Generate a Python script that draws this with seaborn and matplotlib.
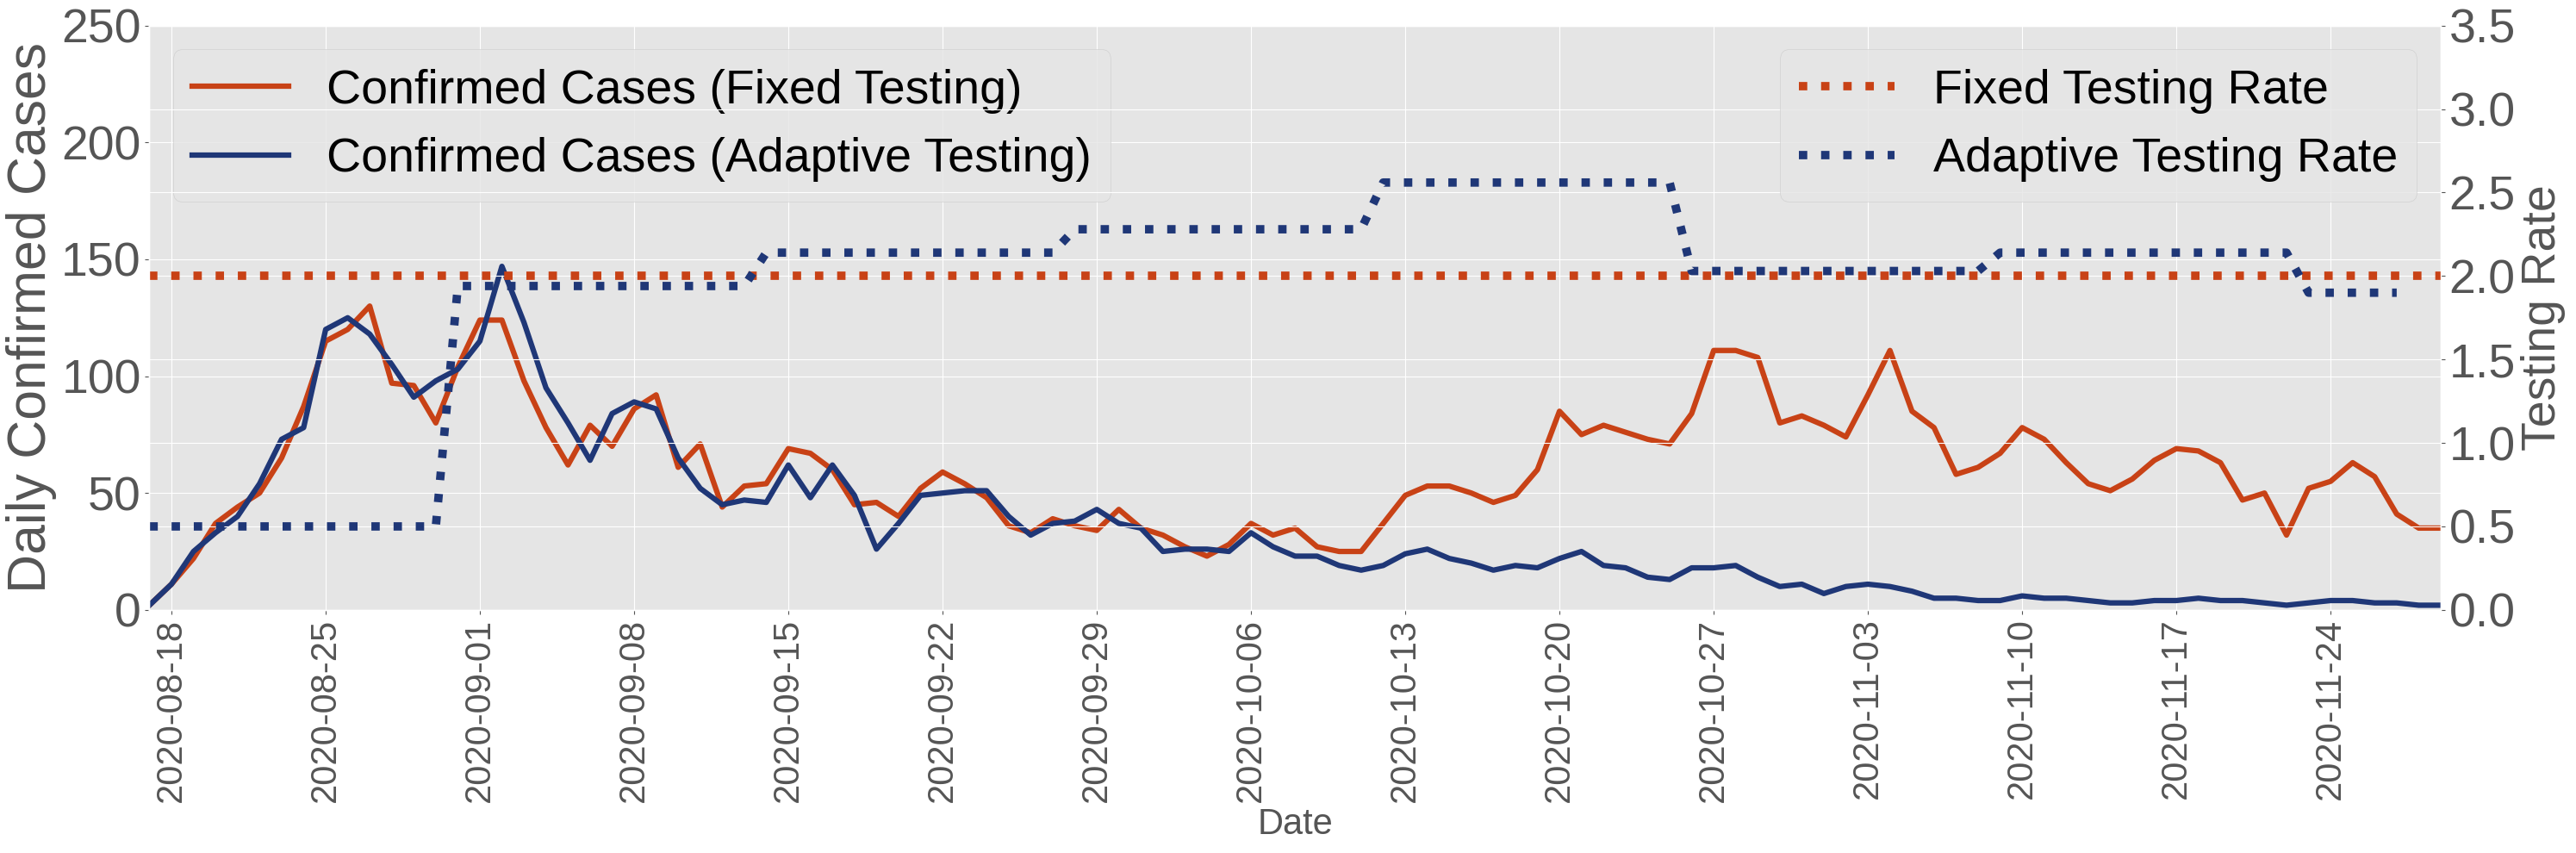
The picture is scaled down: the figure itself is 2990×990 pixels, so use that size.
import pandas as pd
import seaborn as sns
import matplotlib.pyplot as plt
import matplotlib.dates as mdates

# ---------------- data ----------------
dates = pd.date_range('2020-08-17', '2020-11-29', freq='D')
rate_dates = pd.date_range('2020-08-17', '2020-11-27', freq='D')

cases_fixed = [
    2, 11, 22, 37, 44, 50, 65, 87, 115, 120, 130, 97, 96, 80,
    104, 124, 124, 98, 78, 62, 79, 70, 86, 92, 61, 71, 44, 53,
    54, 69, 67, 60, 45, 46, 40, 52, 59, 54, 48, 36, 33, 39,
    36, 34, 43, 35, 32, 27, 23, 28, 37, 32, 35, 27, 25, 25,
    37, 49, 53, 53, 50, 46, 49, 60, 85, 75, 79, 76, 73, 71,
    84, 111, 111, 108, 80, 83, 79, 74, 92, 111, 85, 78, 58, 61,
    67, 78, 73, 63, 54, 51, 56, 64, 69, 68, 63, 47, 50, 32,
    52, 55, 63, 57, 41, 35, 35,
]
cases_adaptive = [
    2, 11, 25, 33, 40, 54, 73, 78, 120, 125, 118, 105, 91, 98,
    103, 115, 147, 123, 95, 80, 64, 84, 89, 86, 65, 52, 45, 47,
    46, 62, 48, 62, 49, 26, 37, 49, 50, 51, 51, 40, 32, 37,
    38, 43, 37, 35, 25, 26, 26, 25, 33, 27, 23, 23, 19, 17,
    19, 24, 26, 22, 20, 17, 19, 18, 22, 25, 19, 18, 14, 13,
    18, 18, 19, 14, 10, 11, 7, 10, 11, 10, 8, 5, 5, 4,
    4, 6, 5, 5, 4, 3, 3, 4, 4, 5, 4, 4, 3, 2,
    3, 4, 4, 3, 3, 2, 2,
]
rate_fixed = [2.0] * len(dates)
rate_adaptive = [
    0.5, 0.5, 0.5, 0.5, 0.5, 0.5, 0.5, 0.5, 0.5, 0.5, 0.5, 0.5, 0.5, 0.5,
    1.94, 1.94, 1.94, 1.94, 1.94, 1.94, 1.94, 1.94, 1.94, 1.94, 1.94, 1.94, 1.94, 1.94,
    2.14, 2.14, 2.14, 2.14, 2.14, 2.14, 2.14, 2.14, 2.14, 2.14, 2.14, 2.14, 2.14, 2.14,
    2.28, 2.28, 2.28, 2.28, 2.28, 2.28, 2.28, 2.28, 2.28, 2.28, 2.28, 2.28, 2.28, 2.28,
    2.56, 2.56, 2.56, 2.56, 2.56, 2.56, 2.56, 2.56, 2.56, 2.56, 2.56, 2.56, 2.56, 2.56,
    2.03, 2.03, 2.03, 2.03, 2.03, 2.03, 2.03, 2.03, 2.03, 2.03, 2.03, 2.03, 2.03, 2.03,
    2.14, 2.14, 2.14, 2.14, 2.14, 2.14, 2.14, 2.14, 2.14, 2.14, 2.14, 2.14, 2.14, 2.14,
    1.90, 1.90, 1.90, 1.90, 1.90,
]

orange = '#c84216'
blue = '#1f3777'

plt.style.use('ggplot')
plt.rcParams['font.family'] = ['Liberation Sans', 'DejaVu Sans']

fig, ax1 = plt.subplots(figsize=(29.9, 9.9), dpi=100)
fig.subplots_adjust(left=0.058, right=0.9475, top=0.97, bottom=0.285)

#------------------ cases (left axis) ------------------
sns.lineplot(x=dates, y=cases_fixed, ax=ax1, color=orange, lw=4.5,
             label='Confirmed Cases (Fixed Testing)')
sns.lineplot(x=dates, y=cases_adaptive, ax=ax1, color=blue, lw=4.5,
             label='Confirmed Cases (Adaptive Testing)')
ax1.set_ylim(0, 250)
ax1.set_yticks(range(0, 251, 50))
ax1.set_xlim(dates[0], dates[-1])
ax1.xaxis.set_major_locator(mdates.WeekdayLocator(byweekday=mdates.TU))
ax1.xaxis.set_major_formatter(mdates.DateFormatter('%Y-%m-%d'))
ax1.tick_params(axis='x', labelsize=30, labelrotation=90)
ax1.tick_params(axis='y', labelsize=40)
ax1.set_xlabel('Date', fontsize=30)
ax1.set_ylabel('Daily Confirmed Cases', fontsize=45)
ax1.legend(loc='upper left', fontsize=40)

#------------------ testing rate (right axis) ------------------
ax2 = ax1.twinx()
sns.lineplot(x=dates, y=rate_fixed, ax=ax2, color=orange, lw=7, linestyle=':',
             label='Fixed Testing Rate')
sns.lineplot(x=rate_dates, y=rate_adaptive, ax=ax2, color=blue, lw=7, linestyle=':',
             label='Adaptive Testing Rate')
ax2.set_ylim(0, 3.5)
ax2.set_yticks([0, 0.5, 1.0, 1.5, 2.0, 2.5, 3.0, 3.5])
ax2.yaxis.set_major_formatter(plt.FormatStrFormatter('%.1f'))
ax2.tick_params(axis='y', labelsize=40)
ax2.set_ylabel('Testing Rate', fontsize=40)
ax2.legend(loc='upper right', fontsize=40)

fig.savefig('out.png', dpi=100)
plt.close()
